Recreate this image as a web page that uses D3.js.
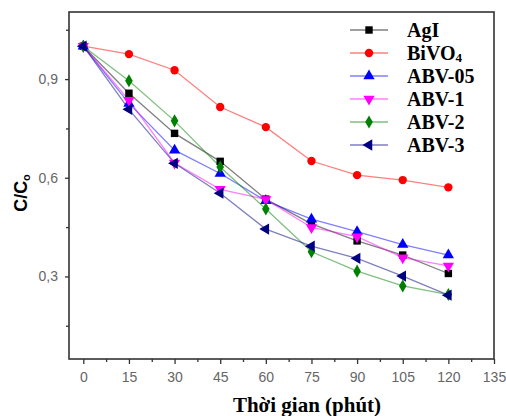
<!DOCTYPE html>
<html>
<head>
<meta charset="utf-8">
<script src="https://cdn.jsdelivr.net/npm/d3@7"></script>
<style>
  body { margin: 0; background: #fff; }
  .tick text { font-family: "Liberation Sans", Arial, sans-serif; font-size: 14px; fill: #666; }
  .leg { font-family: "Liberation Serif", "Times New Roman", serif; font-weight: bold; font-size: 20px; }
</style>
</head>
<body>
<div id="chart"></div>
<script>
// time points (min)
const times = [0, 15, 30, 45, 60, 75, 90, 105, 120];

const seriesNames = ["AgI", "BiVO4", "ABV-05", "ABV-1", "ABV-2", "ABV-3"];
const agi    = [1.00, 0.857, 0.735, 0.650, 0.535, 0.460, 0.408, 0.365, 0.309];
const bivo4  = [1.00, 0.976, 0.927, 0.815, 0.754, 0.651, 0.608, 0.593, 0.571];
const abv05  = [1.00, 0.826, 0.684, 0.613, 0.530, 0.474, 0.436, 0.397, 0.365];
const abv1   = [1.00, 0.836, 0.645, 0.565, 0.534, 0.449, 0.421, 0.357, 0.332];
const abv2   = [1.00, 0.895, 0.773, 0.633, 0.505, 0.375, 0.316, 0.271, 0.245];
const abv3   = [1.00, 0.808, 0.644, 0.553, 0.444, 0.392, 0.355, 0.301, 0.243];

const xTicks = [0, 15, 30, 45, 60, 75, 90, 105, 120, 135];
const yTicks = [0.3, 0.6, 0.9];

const colors = ["#000000", "#ff0000", "#0000ff", "#ff00ff", "#008000", "#000080"];
const symbols = ["square", "circle", "triangle", "triangleDown", "diamond", "triangleLeft"];
const allSeries = [agi, bivo4, abv05, abv1, abv2, abv3];

const width = 506, height = 416;
const margin = { left: 69, right: 12, top: 12, bottom: 57 };

const svg = d3.select("#chart").append("svg")
  .attr("width", width).attr("height", height);

const x = d3.scaleLinear().domain([-4.7, 135]).range([margin.left, width - margin.right]);
const y = d3.scaleLinear().domain([0.049, 1.104]).range([height - margin.bottom, margin.top]);

const fmt = d => d3.format(".1f")(d).replace(".", ",");

// axes
svg.append("g")
  .attr("transform", `translate(0,${height - margin.bottom})`)
  .call(d3.axisBottom(x).tickValues(xTicks).tickSize(5).tickPadding(8));
svg.append("g")
  .attr("transform", `translate(0,${height - margin.bottom})`)
  .call(d3.axisBottom(x).tickValues(d3.range(7.5, 135, 15)).tickSize(3).tickFormat(""));
svg.append("g")
  .attr("transform", `translate(${margin.left},0)`)
  .call(d3.axisLeft(y).tickValues(yTicks).tickSize(4).tickPadding(7).tickFormat(fmt));
svg.append("g")
  .attr("transform", `translate(${margin.left},0)`)
  .call(d3.axisLeft(y).tickValues([0.15, 0.45, 0.75, 1.05]).tickSize(3).tickFormat(""));

svg.selectAll(".domain").remove();
svg.selectAll(".tick line").attr("stroke", "#333").attr("stroke-width", 1.3);

// frame
svg.append("rect")
  .attr("x", margin.left).attr("y", margin.top)
  .attr("width", width - margin.right - margin.left)
  .attr("height", height - margin.bottom - margin.top)
  .attr("fill", "none").attr("stroke", "#333").attr("stroke-width", 1.6);

// lines + markers
const line = d3.line().x((d, i) => x(times[i])).y(d => y(d));
const symMap = {
  square: d3.symbolSquare, circle: d3.symbolCircle, triangle: d3.symbolTriangle,
  triangleDown: d3.symbolTriangle, diamond: d3.symbolDiamond, triangleLeft: d3.symbolTriangle
};
const rot = { triangleDown: 180, triangleLeft: -90 };

function drawMarker(g, sym, color, cx, cy) {
  g.append("path")
    .attr("d", d3.symbol().type(symMap[sym]).size(sym === "diamond" ? 50 : 55)())
    .attr("transform", `translate(${cx},${cy}) rotate(${rot[sym] || 0})`)
    .attr("fill", color);
}

allSeries.forEach((vals, si) => {
  svg.append("path")
    .datum(vals)
    .attr("d", line)
    .attr("fill", "none")
    .attr("stroke", colors[si])
    .attr("stroke-opacity", 0.5)
    .attr("stroke-width", 1.3);
});
allSeries.forEach((vals, si) => {
  const g = svg.append("g");
  vals.forEach((v, i) => drawMarker(g, symbols[si], colors[si], x(times[i]), y(v)));
});

// legend
const leg = svg.append("g");
seriesNames.forEach((name, i) => {
  const ly = 30 + i * 23;
  leg.append("line").attr("x1", 350).attr("x2", 388).attr("y1", ly).attr("y2", ly)
    .attr("stroke", colors[i]).attr("stroke-opacity", 0.5).attr("stroke-width", 1.3);
  drawMarker(leg, symbols[i], colors[i], 369, ly);
  const t = leg.append("text").attr("class", "leg").attr("x", 407).attr("y", ly + 7);
  if (name === "BiVO4") {
    t.append("tspan").text("BiVO");
    t.append("tspan").attr("font-size", "13px").attr("dy", 2).text("4");
  } else {
    t.text(name);
  }
});

// axis titles
svg.append("text")
  .attr("x", 307).attr("y", 412)
  .attr("text-anchor", "middle")
  .attr("font-family", "Liberation Serif, Times New Roman, serif")
  .attr("font-weight", "bold").attr("font-size", "21px")
  .text("Thời gian (phút)");

const yl = svg.append("text")
  .attr("transform", "translate(27,193) rotate(-90)")
  .attr("text-anchor", "middle")
  .attr("font-family", "Liberation Sans, Arial, sans-serif")
  .attr("font-weight", "bold").attr("font-size", "18px");
yl.append("tspan").text("C/C");
yl.append("tspan").attr("font-size", "11px").attr("dy", 3).text("o");
</script>
</body>
</html>
